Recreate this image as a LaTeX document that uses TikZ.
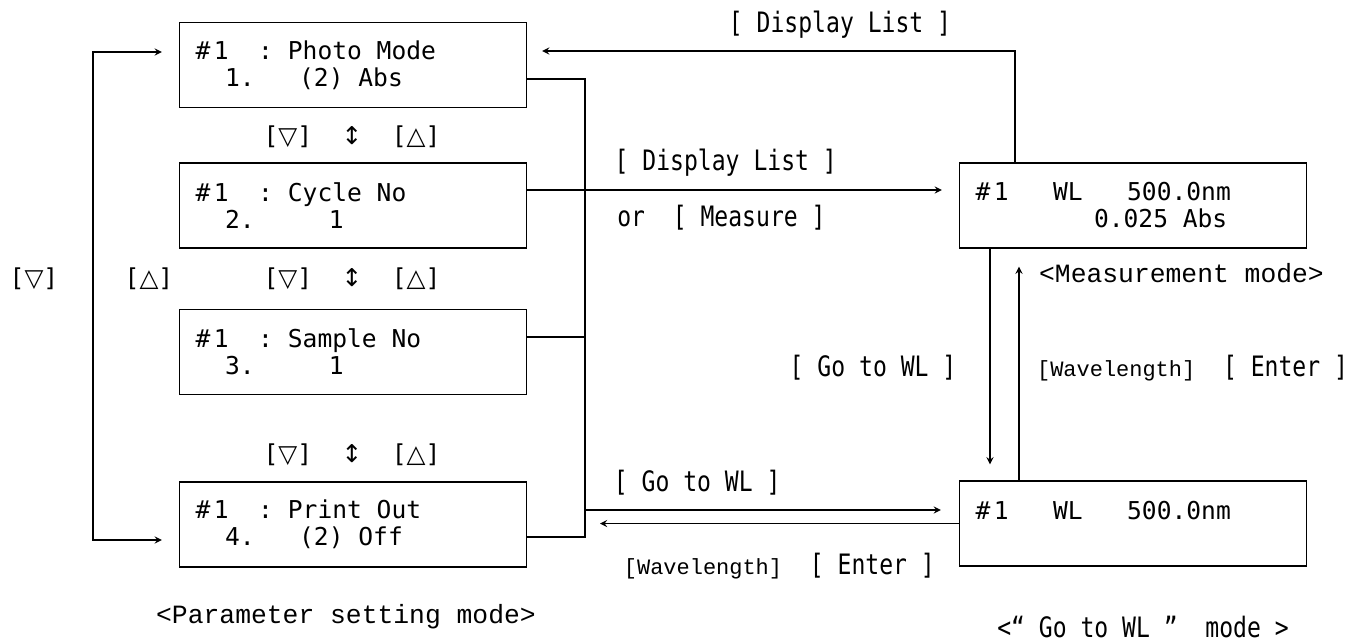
\documentclass[tikz,border=0pt]{standalone}
\usepackage{fontspec}
\newfontfamily\lcd{DejaVu Sans Mono}
\newfontfamily\keyf[FakeStretch=0.82]{DejaVu Sans Mono}
\newfontfamily\courier{Liberation Mono}
\newfontfamily\trifont{DejaVu Sans}
\usetikzlibrary{shapes}
\usetikzlibrary{arrows}
\usetikzlibrary{positioning}
\newcommand{\keydown}{[{\trifont ▽}]}
\newcommand{\keyup}{[{\trifont △}]}
\newcommand{\updown}{{\trifont ↕}}
\newcommand{\blank}{\hphantom{0}}

\begin{document}
\begin{tikzpicture}
\tikzstyle{screen}=[
        rectangle,
        draw,
        line width=0.8pt,
        minimum height=1.7cm,
        text width=6.3cm,
        inner xsep=0.32cm,
        align=left,
        font=\lcd\fontsize{14}{15.4}\selectfont
]
\tikzstyle{keys}=[font=\keyf\fontsize{16}{18}\selectfont,inner sep=1pt]
\tikzstyle{arrowkeys}=[font=\lcd\fontsize{14}{16}\selectfont,inner sep=1pt]
\tikzstyle{mode}=[font=\courier\fontsize{15}{17}\selectfont,inner sep=1pt]
%linesandarrows
\tikzstyle{wire}=[line width=0.8pt]
\tikzstyle{jump}=[->,>=stealth,line width=0.8pt]
\useasboundingbox (0,0) rectangle (26.94,12.86);
%parametersettingscreens
\node[screen] (photo) at (7.06,11.56) {\#\kern2pt1\blank\blank:\blank Photo\blank Mode\\\blank\blank1.\blank\blank\blank(2)\blank Abs};
\node[screen] (cycle) at (7.06,8.75) {\#\kern2pt1\blank\blank:\blank Cycle\blank No\\\blank\blank2.\blank\blank\blank\blank\blank1};
\node[screen] (sample) at (7.06,5.82) {\#\kern2pt1\blank\blank:\blank Sample\blank No\\\blank\blank3.\blank\blank\blank\blank\blank1};
\node[screen] (print) at (7.06,2.37) {\#\kern2pt1\blank\blank:\blank Print\blank Out\\\blank\blank4.\blank\blank\blank(2)\blank Off};
\node[arrowkeys] (k12) at (7.04,10.12) {\keydown~~\updown~~\keyup};
\node[arrowkeys] (k23) at (7.04,7.28) {\keydown~~\updown~~\keyup};
\node[arrowkeys] (k34) at (7.04,3.76) {\keydown~~\updown~~\keyup};
\node[arrowkeys] (kdown) at (0.68,7.28) {\keydown};
\node[arrowkeys] (kup) at (2.98,7.28) {\keyup};
\node[mode] (parmode) at (6.92,0.52) {<Parameter setting mode>};
%measurementandgotoscreens
\node[screen] (meas) at (22.66,8.75) {\#\kern2pt1\blank\blank\blank WL\blank\blank\blank 500.0nm\\\blank\blank\blank\blank\blank\blank\blank\blank 0.025\blank Abs};
\node[screen] (go) at (22.66,2.39) {\#\kern2pt1\blank\blank\blank WL\blank\blank\blank 500.0nm\\\blank};
\node[mode,anchor=west] (measmode) at (20.74,7.4) {<Measurement mode>};
\node[keys] (gomode) at (22.86,0.32) {<“ Go to WL ”~~mode~>};
\node[keys] (dlist) at (16.8,12.36) {[ Display List ]};
\node[keys] (gotowl) at (17.46,5.5) {[ Go to WL ]};
\node[keys,anchor=west] (wlenter) at (20.7,5.5) {{\courier\fontsize{12.5}{14}\selectfont [Wavelength]}~~[ Enter ]};
\coordinate (loop) at (1.86,7.0);
\coordinate (busbot) at (11.7,2.12);
\coordinate (busgo) at (11.7,2.66);
%arrows
\draw[jump,<->,shorten <=0.34cm,shorten >=0.34cm] ([yshift=0.26cm]photo.west) -| (loop) |- ([yshift=-0.31cm]print.west);
\draw[wire] ([yshift=-0.28cm]photo.east) -| (busbot) -- (print.east |- busbot);
\draw[wire] ([yshift=0.3cm]sample.east) -| (busbot);
\draw[jump,shorten >=0.34cm] ([yshift=0.31cm]cycle.east) -- ([yshift=0.31cm]meas.west)
        node[keys,pos=0.46,yshift=0.54cm]{[ Display List ]}
        node[keys,pos=0.45,yshift=-0.56cm]{or~~[ Measure ]};
\draw[jump,shorten >=0.3cm] ([xshift=-2.36cm]meas.north) |- ([yshift=0.28cm]photo.east);
\draw[jump,shorten >=0.32cm] ([xshift=-2.86cm]meas.south) -- ([xshift=-2.86cm]go.north);
\draw[jump,shorten >=0.36cm] ([xshift=-2.28cm]go.north) -- ([xshift=-2.28cm]meas.south);
\draw[jump,shorten >=0.36cm] (busgo) -- (busgo -| go.west)
        node[keys,pos=0.3,yshift=0.54cm]{[ Go to WL ]};
\draw[jump,shorten >=0.3cm] (go.west) -- (go.west -| busbot)
        node[keys,pos=0.48,yshift=-0.86cm]{{\courier\fontsize{12.5}{14}\selectfont [Wavelength]}~~[ Enter ]};
\end{tikzpicture}
\end{document}
